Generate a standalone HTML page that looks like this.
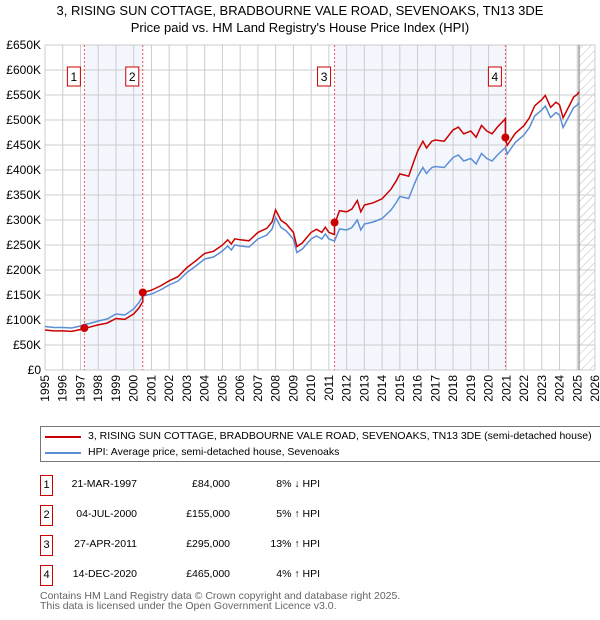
<!DOCTYPE html>
<html><head><meta charset="utf-8"><style>
body{margin:0;width:600px;height:620px;background:#fff;font-family:"Liberation Sans","DejaVu Sans",sans-serif;overflow:hidden;position:relative}
.t{position:absolute;white-space:nowrap;color:#000}
</style></head><body>
<svg id="chart" width="600" height="420" style="position:absolute;left:0;top:0" font-family="Liberation Sans, DejaVu Sans, sans-serif">
<defs><pattern id="hatch" width="6" height="6" patternUnits="userSpaceOnUse" patternTransform="rotate(45)"><line x1="0" y1="0" x2="0" y2="6" stroke="#bbb" stroke-width="1"/></pattern></defs>
<text x="300" y="15" text-anchor="middle" font-size="13">3, RISING SUN COTTAGE, BRADBOURNE VALE ROAD, SEVENOAKS, TN13 3DE</text>
<text x="300" y="32" text-anchor="middle" font-size="13">Price paid vs. HM Land Registry's House Price Index (HPI)</text>
<g id="g"></g>
</svg>
<div style="position:absolute;left:40px;top:426px;width:559px;height:34px;border:1px solid #777;border-right:none;overflow:hidden">
<div style="position:absolute;left:4px;top:9px;width:36px;height:2px;background:#cc0000"></div>
<div class="t" style="left:47px;top:3px;font-size:10.5px">3, RISING SUN COTTAGE, BRADBOURNE VALE ROAD, SEVENOAKS, TN13 3DE (semi-detached house)</div>
<div style="position:absolute;left:4px;top:25px;width:36px;height:2px;background:#5b8ed6"></div>
<div class="t" style="left:47px;top:19px;font-size:10.5px">HPI: Average price, semi-detached house, Sevenoaks</div>
</div>
<div id="tbl"></div>
<div class="t" style="left:40px;top:591px;font-size:10.5px;color:#666;line-height:10px">Contains HM Land Registry data © Crown copyright and database right 2025.<br>This data is licensed under the Open Government Licence v3.0.</div>
<script>
const hpiYears=[1995,1995.5,1996,1996.5,1997,1997.22,1997.5,1998,1998.5,1999,1999.5,2000,2000.3,2000.5,2001,2001.5,2002,2002.5,2003,2003.5,2004,2004.5,2005,2005.3,2005.5,2005.7,2006,2006.5,2007,2007.5,2007.8,2008,2008.3,2008.6,2009,2009.2,2009.5,2010,2010.3,2010.6,2010.8,2011,2011.32,2011.6,2012,2012.3,2012.6,2012.8,2013,2013.5,2014,2014.5,2014.8,2015,2015.5,2015.8,2016,2016.3,2016.5,2016.8,2017,2017.5,2018,2018.3,2018.6,2019,2019.3,2019.6,2019.9,2020.2,2020.5,2020.95,2021.05,2021.5,2022,2022.3,2022.6,2023,2023.2,2023.5,2023.8,2024,2024.2,2024.5,2024.8,2025,2025.1];
const hpiValues=[87,85,85,84,88,91,93,98,102,112,110,122,135,148,152,160,170,178,195,208,222,226,238,248,240,250,248,246,262,270,282,305,285,278,262,235,242,262,268,262,272,262,258,282,280,285,300,280,292,296,303,320,335,347,343,370,387,405,393,405,407,405,425,430,418,423,412,433,423,418,430,445,432,455,470,485,508,520,528,505,515,510,485,505,525,530,535];
const saleYears=[1997.22,2000.51,2011.32,2020.95];
const salePrices=[84,155,295,465];
const saleRatios=[0.92,1.05,1.13,1.04];
const saleDates=["21-MAR-1997","04-JUL-2000","27-APR-2011","14-DEC-2020"];
const saleLabels=["£84,000","£155,000","£295,000","£465,000"];
const saleHpi=["8% ↓ HPI","5% ↑ HPI","13% ↑ HPI","4% ↑ HPI"];
const yTicks=[0,50,100,150,200,250,300,350,400,450,500,550,600,650];
const yTickLabels=["£0","£50K","£100K","£150K","£200K","£250K","£300K","£350K","£400K","£450K","£500K","£550K","£600K","£650K"];
const xTicks=[1995,1996,1997,1998,1999,2000,2001,2002,2003,2004,2005,2006,2007,2008,2009,2010,2011,2012,2013,2014,2015,2016,2017,2018,2019,2020,2021,2022,2023,2024,2025,2026];
const L=45,R=595,T=45,B=370;
const X=y=>L+(y-1995)/(2026-1995)*(R-L);
const Y=v=>B-v/650*(B-T);
const NS="http://www.w3.org/2000/svg",g=document.getElementById('g');
function mk(t,a){const e=document.createElementNS(NS,t);for(const k in a)e.setAttribute(k,a[k]);g.appendChild(e);return e;}
let e;
e=mk('rect',{x:X(saleYears[0]),y:T,width:X(saleYears[1])-X(saleYears[0]),height:B-T,fill:'#eef2fc',opacity:0.7});


e=mk('rect',{x:X(saleYears[2]),y:T,width:X(saleYears[3])-X(saleYears[2]),height:B-T,fill:'#eef2fc',opacity:0.7});


const hx=X(2025.1);
e=mk('rect',{x:hx,y:T,width:R-hx,height:B-T,fill:'url(#hatch)'});


yTicks.forEach((v,i)=>{
 e=mk('line',{x1:L,x2:R,y1:Y(v),y2:Y(v),stroke:'#ccc','stroke-width':1});
 
 
 e=mk('text',{x:L-4,y:Y(v)+4,'text-anchor':'end','font-size':12});
 e.textContent=yTickLabels[i];
 
 
});
xTicks.forEach(yr=>{
 e=mk('line',{x1:X(yr),x2:X(yr),y1:T,y2:B,stroke:'#ccc','stroke-width':1});
 
 
 e=mk('text',{transform:`translate(${X(yr)+4},${B+5}) rotate(-90)`,'text-anchor':'end','font-size':12});
 e.textContent=yr;
 
 
});
e=mk('line',{x1:hx,x2:hx,y1:T,y2:B,stroke:'#888','stroke-width':1.2});


saleYears.forEach((sy,i)=>{
 e=mk('line',{x1:X(sy),x2:X(sy),y1:T,y2:B,stroke:'#e55','stroke-width':1,'stroke-dasharray':'2,2'});
 
 
 e=mk('rect',{x:X(sy)-17,y:67,width:13,height:19,fill:'#fff',stroke:'#cc0000'});
 
 
 e=mk('text',{x:X(sy)-10.5,y:81,'text-anchor':'middle','font-size':12});
 e.textContent=i+1;
 
 
});
e=mk('path',{d:'M'+hpiYears.map((yr,i)=>X(yr).toFixed(1)+','+Y(hpiValues[i]).toFixed(1)).join('L'),fill:'none',stroke:'#5b8ed6','stroke-width':1.5});


function ratio(yr){let r=saleRatios[0];for(let i=0;i<saleYears.length;i++)if(yr>=saleYears[i])r=saleRatios[i];return r;}
let pts=[];
hpiYears.forEach((yr,i)=>{
 saleYears.forEach((sy,k)=>{if(k>0&&sy>hpiYears[i-1]&&sy<=yr){const prev=hpiValues[i-1]+(hpiValues[i]-hpiValues[i-1])*(sy-hpiYears[i-1])/(yr-hpiYears[i-1]);pts.push([sy,prev*saleRatios[k-1]]);pts.push([sy,salePrices[k]]);}});
 pts.push([yr,hpiValues[i]*ratio(yr)]);
});
e=mk('path',{d:'M'+pts.map(p=>X(p[0]).toFixed(1)+','+Y(p[1]).toFixed(1)).join('L'),fill:'none',stroke:'#cc0000','stroke-width':1.5});


saleYears.forEach((sy,i)=>{
 e=mk('circle',{cx:X(sy),cy:Y(salePrices[i]),r:4,fill:'#cc0000'});
 
 
});
const tbl=document.getElementById('tbl');
saleDates.forEach((d,i)=>{
 const top=475+i*30;
 const row=document.createElement('div');
 
 
 row.innerHTML=`<div class="t" style="left:40px;top:${top}px;width:11px;height:19px;border:1px solid #cc0000;font-size:11px;text-align:center;line-height:19px">${i+1}</div>
<div class="t" style="left:60px;top:${top+3}px;width:77px;text-align:right;font-size:10.5px">${d}</div>
<div class="t" style="left:150px;top:${top+3}px;width:80px;text-align:right;font-size:10.5px">${saleLabels[i]}</div>
<div class="t" style="left:250px;top:${top+3}px;width:70px;text-align:right;font-size:10.5px">${saleHpi[i]}</div>`;
 tbl.appendChild(row);
});
</script>
</body></html>
